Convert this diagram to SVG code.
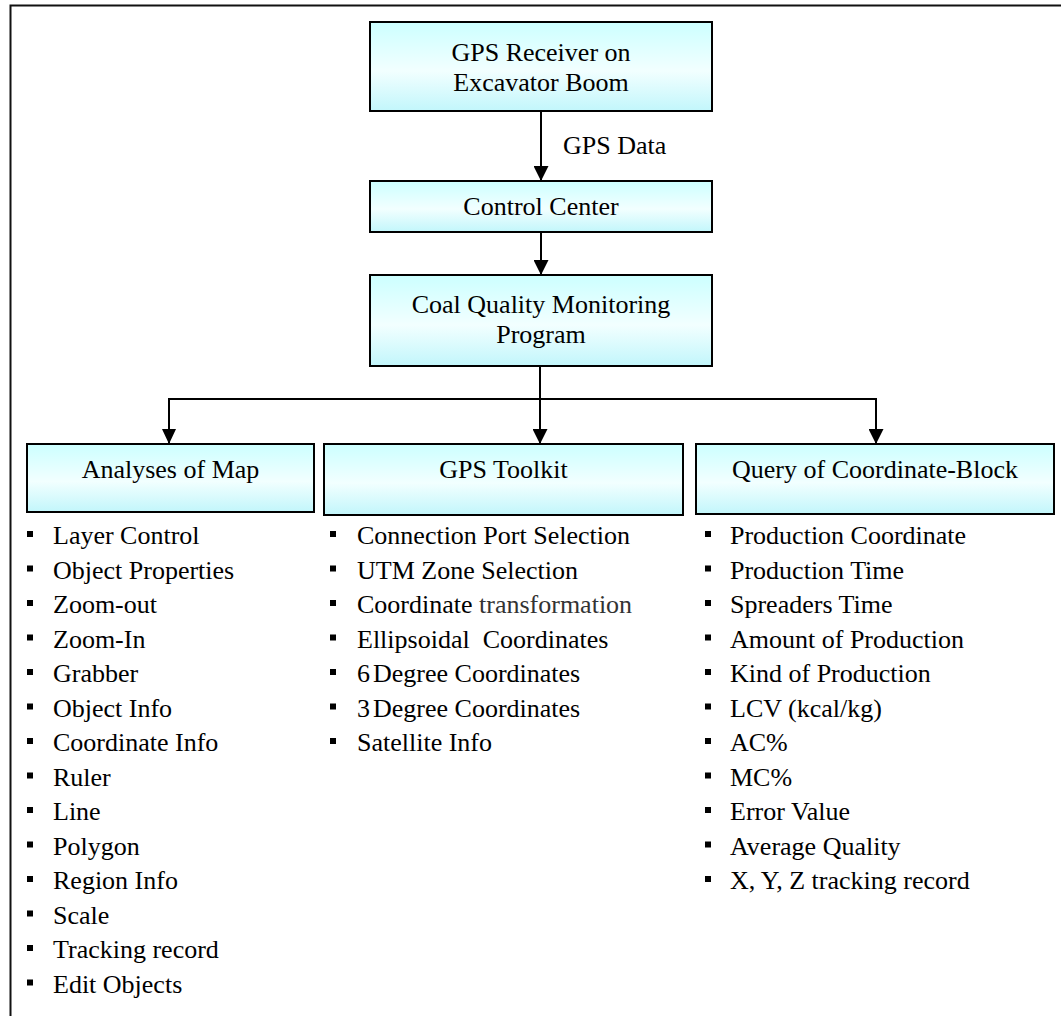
<svg xmlns="http://www.w3.org/2000/svg" width="1061" height="1016" viewBox="0 0 1061 1016">
<defs>
<linearGradient id="fillGrad" x1="0" y1="0" x2="0" y2="1">
<stop offset="0" stop-color="#ccffff"/>
<stop offset="0.55" stop-color="#f2ffff"/>
<stop offset="1" stop-color="#c2f6fb"/>
</linearGradient>
<marker id="arrow" viewBox="0 0 10 10" refX="10" refY="5" markerWidth="15" markerHeight="15" markerUnits="userSpaceOnUse" orient="auto">
<path d="M0,0 L10,5 L0,10 Z" fill="#000"/>
</marker>
</defs>
<style>
.box{fill:url(#fillGrad);stroke:#000;stroke-width:2}
.t{font-family:"Liberation Serif","Times New Roman",serif;font-size:26px;fill:#000}
.c{text-anchor:middle}
.conn{fill:none;stroke:#000;stroke-width:2}
.b{fill:#000}
</style>
<rect width="1061" height="1016" fill="#fff"/>
<path d="M10.5,1016 V5.5 H1061" fill="none" stroke="#111" stroke-width="2"/>

<g id="connectors">
<line class="conn" x1="541" y1="111" x2="541" y2="181" marker-end="url(#arrow)"/>
<line class="conn" x1="541" y1="232" x2="541" y2="275" marker-end="url(#arrow)"/>
<polyline class="conn" points="169,444 169,399 876,399 876,444" marker-end="url(#arrow)"/>
<line class="conn" x1="540" y1="366" x2="540" y2="444" marker-end="url(#arrow)"/>
<path d="M162,429 L176,429 L169,444 Z" fill="#000"/>
<text class="t" x="563" y="154">GPS Data</text>
</g>

<g id="node-gps-receiver">
<rect class="box" x="370" y="22" width="342" height="89"/>
<text class="t c" x="541" y="61">GPS Receiver on</text>
<text class="t c" x="541" y="91">Excavator Boom</text>
</g>

<g id="node-control-center">
<rect class="box" x="370" y="181" width="342" height="51"/>
<text class="t c" x="541" y="215">Control Center</text>
</g>

<g id="node-coal-quality">
<rect class="box" x="370" y="275" width="342" height="91"/>
<text class="t c" x="541" y="313">Coal Quality Monitoring</text>
<text class="t c" x="541" y="343">Program</text>
</g>

<g id="node-analyses-map">
<rect class="box" x="27" y="444" width="287" height="68"/>
<text class="t c" x="170.5" y="478">Analyses of Map</text>
<g>
<rect class="b" x="27" y="531" width="6" height="6"/><text class="t" x="53" y="544">Layer Control</text>
<rect class="b" x="27" y="565.5" width="6" height="6"/><text class="t" x="53" y="578.5">Object Properties</text>
<rect class="b" x="27" y="600" width="6" height="6"/><text class="t" x="53" y="613">Zoom-out</text>
<rect class="b" x="27" y="634.5" width="6" height="6"/><text class="t" x="53" y="647.5">Zoom-In</text>
<rect class="b" x="27" y="669" width="6" height="6"/><text class="t" x="53" y="682">Grabber</text>
<rect class="b" x="27" y="703.5" width="6" height="6"/><text class="t" x="53" y="716.5">Object Info</text>
<rect class="b" x="27" y="738" width="6" height="6"/><text class="t" x="53" y="751">Coordinate Info</text>
<rect class="b" x="27" y="772.5" width="6" height="6"/><text class="t" x="53" y="785.5">Ruler</text>
<rect class="b" x="27" y="807" width="6" height="6"/><text class="t" x="53" y="820">Line</text>
<rect class="b" x="27" y="841.5" width="6" height="6"/><text class="t" x="53" y="854.5">Polygon</text>
<rect class="b" x="27" y="876" width="6" height="6"/><text class="t" x="53" y="889">Region Info</text>
<rect class="b" x="27" y="910.5" width="6" height="6"/><text class="t" x="53" y="923.5">Scale</text>
<rect class="b" x="27" y="945" width="6" height="6"/><text class="t" x="53" y="958">Tracking record</text>
<rect class="b" x="27" y="979.5" width="6" height="6"/><text class="t" x="53" y="992.5">Edit Objects</text>
</g>
</g>

<g id="node-gps-toolkit">
<rect class="box" x="324" y="444" width="359" height="71"/>
<text class="t c" x="503.5" y="478">GPS Toolkit</text>
<g>
<rect class="b" x="330" y="531" width="6" height="6"/><text class="t" x="357" y="544">Connection Port Selection</text>
<rect class="b" x="330" y="565.5" width="6" height="6"/><text class="t" x="357" y="578.5">UTM Zone Selection</text>
<rect class="b" x="330" y="600" width="6" height="6"/><text class="t" x="357" y="613">Coordinate <tspan fill="#333">transformation</tspan></text>
<rect class="b" x="330" y="634.5" width="6" height="6"/><text class="t" x="357" y="647.5" xml:space="preserve">Ellipsoidal  Coordinates</text>
<rect class="b" x="330" y="669" width="6" height="6"/><text class="t" x="357" y="682">6<tspan dx="3">Degree Coordinates</tspan></text>
<rect class="b" x="330" y="703.5" width="6" height="6"/><text class="t" x="357" y="716.5">3<tspan dx="3">Degree Coordinates</tspan></text>
<rect class="b" x="330" y="738" width="6" height="6"/><text class="t" x="357" y="751">Satellite Info</text>
</g>
</g>

<g id="node-query-block">
<rect class="box" x="696" y="444" width="358" height="70"/>
<text class="t c" x="875" y="478">Query of Coordinate-Block</text>
<g>
<rect class="b" x="705" y="531" width="6" height="6"/><text class="t" x="730" y="544">Production Coordinate</text>
<rect class="b" x="705" y="565.5" width="6" height="6"/><text class="t" x="730" y="578.5">Production Time</text>
<rect class="b" x="705" y="600" width="6" height="6"/><text class="t" x="730" y="613">Spreaders Time</text>
<rect class="b" x="705" y="634.5" width="6" height="6"/><text class="t" x="730" y="647.5">Amount of Production</text>
<rect class="b" x="705" y="669" width="6" height="6"/><text class="t" x="730" y="682">Kind of Production</text>
<rect class="b" x="705" y="703.5" width="6" height="6"/><text class="t" x="730" y="716.5">LCV (kcal/kg)</text>
<rect class="b" x="705" y="738" width="6" height="6"/><text class="t" x="730" y="751">AC%</text>
<rect class="b" x="705" y="772.5" width="6" height="6"/><text class="t" x="730" y="785.5">MC%</text>
<rect class="b" x="705" y="807" width="6" height="6"/><text class="t" x="730" y="820">Error Value</text>
<rect class="b" x="705" y="841.5" width="6" height="6"/><text class="t" x="730" y="854.5">Average Quality</text>
<rect class="b" x="705" y="876" width="6" height="6"/><text class="t" x="730" y="889">X, Y, Z tracking record</text>
</g>
</g>
</svg>
